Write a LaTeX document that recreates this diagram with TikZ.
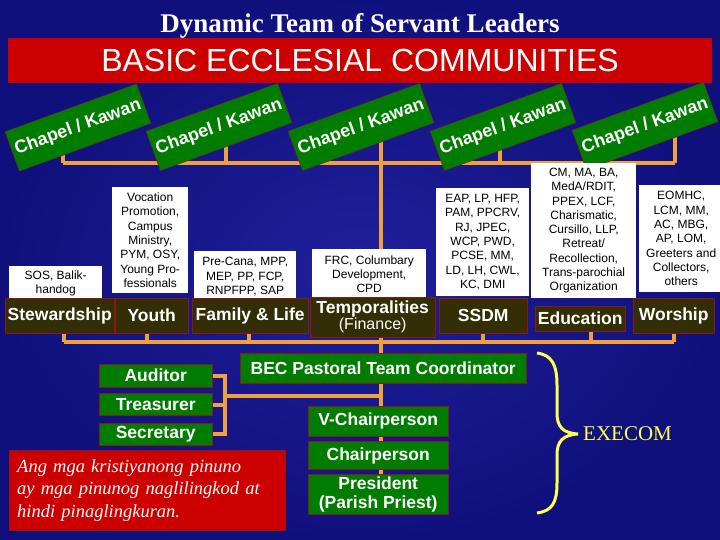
\documentclass[tikz,border=0pt]{standalone}
\usepackage{fontspec}
\setmainfont{Liberation Serif}
\setsansfont{Liberation Sans}
\usetikzlibrary{positioning}
\definecolor{navydark}{RGB}{16,16,125}
\definecolor{navylight}{RGB}{32,32,155}
\definecolor{bannerred}{RGB}{204,0,0}
\definecolor{boxgreen}{RGB}{0,125,0}
\definecolor{edgered}{RGB}{135,25,25}
\definecolor{minfill}{RGB}{52,46,6}
\definecolor{linkorange}{RGB}{240,160,60}
\definecolor{braceyellow}{RGB}{255,255,80}
\newcommand{\setfs}[2]{\fontsize{#1}{#2}\selectfont}
\pgfdeclarelayer{back}
\pgfdeclarelayer{links}
\pgfsetlayers{back,links,main}

\begin{document}
\begin{tikzpicture}[x=1pt, y=-1pt,
    chapel/.style={draw=edgered, fill=boxgreen, rotate=20, minimum width=140pt,
                   minimum height=42pt, inner sep=0pt, text=white,
                   font=\sffamily\bfseries\setfs{18}{20}},
    ministry/.style={draw=edgered, fill=minfill, text=white, inner sep=0pt,
                     anchor=north west, align=center,
                     font=\sffamily\bfseries\setfs{17.5}{16}},
    desc/.style={fill=white, text=black, inner sep=0pt, anchor=north west,
                 align=center, font=\sffamily\setfs{12}{14.3}},
    officer/.style={draw=edgered, fill=boxgreen, text=white, inner sep=0pt,
                    align=center, font=\sffamily\bfseries\setfs{17.5}{19}},
    link/.style={draw=linkorange, line width=4pt},
    brace/.style={draw=braceyellow, line width=3pt}
  ]
    \useasboundingbox (0,0) rectangle (720,540);
    \begin{pgfonlayer}{back}
      \shade[inner color=navylight, outer color=navydark] (0,0) rectangle (720,540);
    \end{pgfonlayer}

    \node[text=white, anchor=base, font=\bfseries\setfs{27}{29}] (title) at (360,33)
      {Dynamic Team of Servant Leaders};
    \node[fill=bannerred, minimum width=704pt, minimum height=45pt, inner sep=0pt,
          text=white, font=\sffamily\setfs{32}{34}] (banner) at (360,60.5)
      {BASIC ECCLESIAL COMMUNITIES};

    \node[chapel] (ch1) at (78,127.5) {Chapel / Kawan};
    \node[chapel] (ch2) at (219,127)  {Chapel / Kawan};
    \node[chapel] (ch3) at (361,127)  {Chapel / Kawan};
    \node[chapel] (ch4) at (503,127)  {Chapel / Kawan};
    \node[chapel] (ch5) at (645,126)  {Chapel / Kawan};

    % ministry programs above each ministry
    \node[desc, minimum width=93pt,  minimum height=35pt]  (stewdesc)   at (9,266)   {SOS, Balik-\\handog};
    \node[desc, minimum width=76pt,  minimum height=106pt] (youthdesc)  at (112,187) {Vocation\\Promotion,\\Campus\\Ministry,\\PYM, OSY,\\Young Pro-\\fessionals};
    \node[desc, minimum width=102pt, minimum height=51pt]  (famdesc)    at (194,251) {Pre-Cana, MPP,\\MEP, PP, FCP,\\RNPFPP, SAP};
    \node[desc, minimum width=114pt, minimum height=50pt]  (tempdesc)   at (312,249) {FRC, Columbary\\Development,\\CPD};
    \node[desc, minimum width=93pt,  minimum height=108pt] (ssdmdesc)   at (436,188) {EAP, LP, HFP,\\PAM, PPCRV,\\RJ, JPEC,\\WCP, PWD,\\PCSE, MM,\\LD, LH, CWL,\\KC, DMI};
    \node[desc, minimum width=105pt, minimum height=135pt] (edudesc)    at (531,163) {CM, MA, BA,\\MedA/RDIT,\\PPEX, LCF,\\Charismatic,\\Cursillo, LLP,\\Retreat/\\Recollection,\\Trans-parochial\\Organization};
    \node[desc, minimum width=84pt,  minimum height=107pt] (worshipdesc) at (639,185) {EOMHC,\\LCM, MM,\\AC, MBG,\\AP, LOM,\\Greeters and\\Collectors,\\others};

    \node[ministry, minimum width=109pt, minimum height=35pt] (stew)    at (5,298)   {Stewardship};
    \node[ministry, minimum width=73pt,  minimum height=35pt] (youth)   at (115,298) {Youth};
    \node[ministry, minimum width=116pt, minimum height=35pt] (family)  at (192,298) {Family \& Life};
    \node[ministry, minimum width=125pt, minimum height=40pt] (temp)    at (310,297) {Temporalities\\{\mdseries\setfs{16}{16}(Finance)}};
    \node[ministry, minimum width=88pt,  minimum height=35pt] (ssdm)    at (439,298) {SSDM};
    \node[ministry, minimum width=90pt,  minimum height=25pt] (edu)     at (535,306) {Education};
    \node[ministry, minimum width=81pt,  minimum height=35pt] (worship) at (633,298) {Worship};

    \node[officer, minimum width=286pt, minimum height=30pt, anchor=north west] (coord) at (240,353) {BEC Pastoral Team Coordinator};
    \node[officer, minimum width=140pt, minimum height=30pt, anchor=north west] (vchair) at (308,406) {V-Chairperson};
    \node[officer, minimum width=140pt, minimum height=28pt, below=5pt of vchair] (chair) {Chairperson};
    \node[officer, minimum width=140pt, minimum height=40pt, below=4pt of chair] (pres) {President\\(Parish Priest)};

    \node[officer, minimum width=113pt, minimum height=23pt, anchor=north west] (aud) at (99,364) {Auditor};
    \node[officer, minimum width=113pt, minimum height=22pt, below=6pt of aud] (tre) {Treasurer};
    \node[officer, minimum width=113pt, minimum height=22pt, below=7pt of tre] (sec) {Secretary};

    \node[draw=edgered, fill=bannerred, minimum width=276pt, minimum height=80pt,
          text width=260pt, inner sep=0pt, align=left, anchor=north west, text=white,
          font=\itshape\setfs{18.5}{22.5}] (quote) at (9,450)
      {Ang mga kristiyanong pinuno\\ay mga pinunog naglilingkod at\\hindi pinaglingkuran.};

    \node[text=braceyellow, anchor=west, inner sep=0pt, font=\setfs{21}{23}] (execom) at (583,434) {EXECOM};
    \draw[brace] (537,353) .. controls (552,355) and (557,365) .. (557,385) -- (557,413)
      .. controls (557,427) and (563,433) .. ([xshift=-5pt]execom.west)
      .. controls (563,435) and (557,441) .. (557,455) -- (557,483)
      .. controls (557,503) and (552,511) .. (537,513);

    % bus lines
    \coordinate (u1) at (63,163);  \coordinate (u2) at (226,163); \coordinate (u3) at (381,163);
    \coordinate (u4) at (500,163); \coordinate (u5) at (675,163);
    \coordinate (l1) at (64,342);  \coordinate (l2) at (147,342); \coordinate (l3) at (249,342);
    \coordinate (l4) at (381,342); \coordinate (l5) at (483,342); \coordinate (l6) at (591,342);
    \coordinate (l7) at (674,342);
    \coordinate (brk) at (225,396);

    \begin{pgfonlayer}{links}
      \draw[link] (u1) -- (u5);
      \foreach \i in {1,...,5}
        \draw[link] (u\i |- ch\i.center) -- (u\i);
      \draw[link] (l1) -- (l7);
      \foreach \i/\m in {1/stew, 2/youth, 3/family, 5/ssdm, 6/edu, 7/worship}
        \draw[link] (l\i |- \m.center) -- (l\i);
      \draw[link] (u3) -- (u3 |- pres.center);
      \draw[link] (aud.east) -| (brk |- sec.east) -- (sec.east);
      \draw[link] (tre.east) -- (tre.east -| brk);
      \draw[link] (brk) -- (brk -| u3);
    \end{pgfonlayer}
  \end{tikzpicture}
\end{document}
